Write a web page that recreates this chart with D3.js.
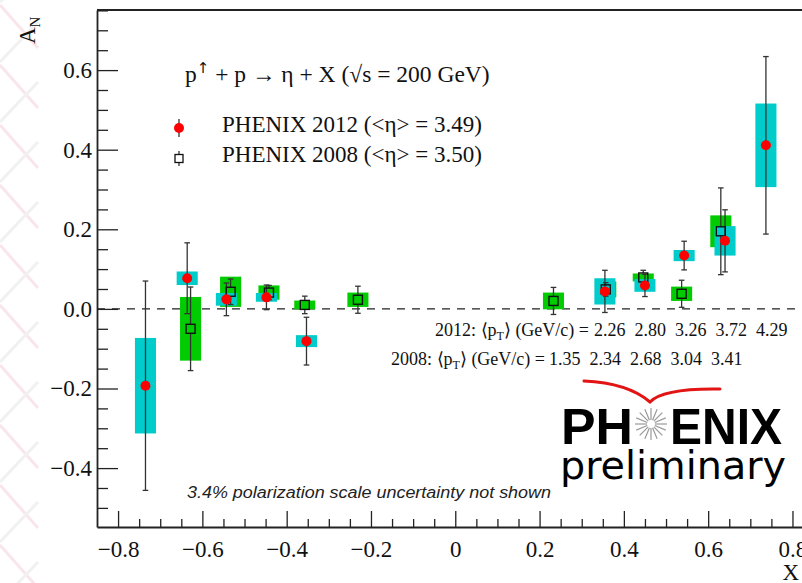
<!DOCTYPE html>
<html><head><meta charset="utf-8">
<script src="https://cdn.jsdelivr.net/npm/d3@7"></script>
<style>
html,body{margin:0;padding:0;background:#fff;}
svg{display:block;}
</style></head>
<body>
<script>
// ---- data ----
const xf2012   = [-0.735, -0.636, -0.543, -0.448, -0.353, 0.355, 0.450, 0.543, 0.640, 0.737];
const an2012   = [-0.193, 0.077, 0.024, 0.029, -0.081, 0.044, 0.059, 0.134, 0.171, 0.411];
const stat2012 = [0.263, 0.089, 0.041, 0.031, 0.060, 0.053, 0.028, 0.036, 0.078, 0.223];
const syst2012 = [0.120, 0.017, 0.016, 0.011, 0.015, 0.033, 0.016, 0.014, 0.037, 0.105];

const xf2008   = [-0.628, -0.533, -0.442, -0.357, -0.231, 0.233, 0.357, 0.446, 0.537, 0.630];
const an2008   = [-0.050, 0.043, 0.041, 0.010, 0.023, 0.020, 0.049, 0.079, 0.038, 0.195];
const stat2008 = [0.105, 0.032, 0.018, 0.022, 0.034, 0.034, 0.017, 0.018, 0.034, 0.109];
const syst2008 = [0.080, 0.038, 0.018, 0.011, 0.018, 0.021, 0.020, 0.010, 0.018, 0.040];

const xTickVals   = [-0.8, -0.6, -0.4, -0.2, 0, 0.2, 0.4, 0.6, 0.8];
const xTickLabels = ["\u22120.8", "\u22120.6", "\u22120.4", "\u22120.2", "0", "0.2", "0.4", "0.6", "0.8"];
const yTickVals   = [-0.4, -0.2, 0, 0.2, 0.4, 0.6];
const yTickLabels = ["\u22120.4", "\u22120.2", "0.0", "0.2", "0.4", "0.6"];

const pt2012 = ["2.26", "2.80", "3.26", "3.72", "4.29"];
const pt2008 = ["1.35", "2.34", "2.68", "3.04", "3.41"];

const boxHalfWidth = 0.025;

// ---- layout ----
const W = 802, H = 583;
const SERIF = "'Liberation Serif', 'Times New Roman', serif";
const SANS = "'Liberation Sans', Arial, sans-serif";
const svg = d3.select("body").append("svg").attr("width", W).attr("height", H)
  .style("font-family", SERIF);
svg.append("rect").attr("width", W).attr("height", H).attr("fill", "#fff");

// faint slide decoration on left edge
const deco = svg.append("g").attr("opacity", 0.35);
for (let i = -1; i < 11; i++) {
  deco.append("line").attr("x1", 0).attr("y1", 60*i+5).attr("x2", 38).attr("y2", 60*i+48)
    .attr("stroke", "#f0b8c6").attr("stroke-width", 3);
  deco.append("line").attr("x1", 0).attr("y1", 60*i+62).attr("x2", 38).attr("y2", 60*i+22)
    .attr("stroke", "#d8d8d8").attr("stroke-width", 3);
}
svg.append("rect").attr("x", 40).attr("y", 0).attr("width", W-40).attr("height", H).attr("fill", "#fff");

const x = d3.scaleLinear().domain([-0.85, 0.85]).range([97, 97 + 1.7 * 421.5]);
const y = d3.scaleLinear().domain([-0.548, 0.751]).range([527, 10]);

const axisColor = "#222";

// frame top line
svg.append("line").attr("x1", 97).attr("x2", W).attr("y1", 10).attr("y2", 10)
  .attr("stroke", axisColor).attr("stroke-width", 1.8);

// zero dashed line
svg.append("line").attr("x1", 97).attr("x2", W).attr("y1", y(0)).attr("y2", y(0))
  .attr("stroke", "#222").attr("stroke-width", 1.3).attr("stroke-dasharray", "8,7");

// ---- axes ----
function styleAxis(g) {
  g.select(".domain").attr("stroke", axisColor).attr("stroke-width", 1.8);
  g.selectAll(".tick line").attr("stroke", axisColor).attr("stroke-width", 1.3);
  g.attr("font-family", null);
  g.selectAll("text").style("font-family", SERIF).attr("font-size", 23).attr("fill", "#111");
}
const yMinor = d3.range(-0.5, 0.751, 0.05).filter(v => yTickVals.every(t => Math.abs(t - v) > 1e-6));
const xMinor = d3.range(-0.8, 0.851, 0.05).filter(v => xTickVals.every(t => Math.abs(t - v) > 1e-6));

const gyMinor = svg.append("g").attr("transform", "translate(97,0)")
  .call(d3.axisLeft(y).tickValues(yMinor).tickSize(-11).tickFormat(""));
gyMinor.select(".domain").remove();
gyMinor.selectAll(".tick line").attr("stroke", axisColor).attr("stroke-width", 1.3);

const gy = svg.append("g").attr("transform", "translate(97,0)")
  .call(d3.axisLeft(y).tickValues(yTickVals).tickSize(-21).tickSizeOuter(0).tickPadding(5)
    .tickFormat((d, i) => yTickLabels[i]));
styleAxis(gy);

const gxMinor = svg.append("g").attr("transform", "translate(0,527)")
  .call(d3.axisBottom(x).tickValues(xMinor).tickSize(-8).tickFormat(""));
gxMinor.select(".domain").remove();
gxMinor.selectAll(".tick line").attr("stroke", axisColor).attr("stroke-width", 1.3);

const gx = svg.append("g").attr("transform", "translate(0,527)")
  .call(d3.axisBottom(x).tickValues(xTickVals).tickSize(-16).tickSizeOuter(0).tickPadding(14)
    .tickFormat((d, i) => xTickLabels[i]));
styleAxis(gx);

// axis titles
const an = svg.append("text").attr("transform", "translate(35,44) rotate(-90)")
  .attr("font-size", 23).attr("fill", "#111");
an.append("tspan").text("A");
an.append("tspan").attr("font-size", 15).attr("dy", 5).text("N");
svg.append("text").attr("x", 799).attr("y", 580).attr("text-anchor", "end")
  .attr("font-size", 23).attr("fill", "#111").text("X");

// ---- systematic boxes ----
const d2012 = xf2012.map((v, i) => ({x: v, a: an2012[i], s: stat2012[i], b: syst2012[i]}));
const d2008 = xf2008.map((v, i) => ({x: v, a: an2008[i], s: stat2008[i], b: syst2008[i]}));

svg.append("g").selectAll("rect").data(d2008).join("rect")
  .attr("x", d => x(d.x - boxHalfWidth)).attr("width", d => x(d.x + boxHalfWidth) - x(d.x - boxHalfWidth))
  .attr("y", d => y(d.a + d.b)).attr("height", d => y(d.a - d.b) - y(d.a + d.b))
  .attr("fill", "#00cc00");
svg.append("g").selectAll("rect").data(d2012).join("rect")
  .attr("x", d => x(d.x - boxHalfWidth)).attr("width", d => x(d.x + boxHalfWidth) - x(d.x - boxHalfWidth))
  .attr("y", d => y(d.a + d.b)).attr("height", d => y(d.a - d.b) - y(d.a + d.b))
  .attr("fill", "#00cccc");

// ---- error bars ----
const errCol = "#333", capW = 2.8, sq = 4.5;
function drawErr(data, gap) {
  const g = svg.append("g").attr("stroke", errCol).attr("stroke-width", 1.3);
  data.forEach(d => {
    const cx = x(d.x), top = y(d.a + d.s), bot = y(d.a - d.s), cy = y(d.a);
    if (gap > 0) {
      if (cy - gap > top) g.append("line").attr("x1", cx).attr("x2", cx).attr("y1", top).attr("y2", cy - gap);
      if (cy + gap < bot) g.append("line").attr("x1", cx).attr("x2", cx).attr("y1", cy + gap).attr("y2", bot);
    } else {
      g.append("line").attr("x1", cx).attr("x2", cx).attr("y1", top).attr("y2", bot);
    }
    g.append("line").attr("x1", cx - capW).attr("x2", cx + capW).attr("y1", top).attr("y2", top);
    g.append("line").attr("x1", cx - capW).attr("x2", cx + capW).attr("y1", bot).attr("y2", bot);
  });
}
drawErr(d2008, sq);
drawErr(d2012, 0);

// markers
svg.append("g").selectAll("rect").data(d2008).join("rect")
  .attr("x", d => x(d.x) - sq).attr("y", d => y(d.a) - sq).attr("width", 2*sq).attr("height", 2*sq)
  .attr("fill", "none").attr("stroke", "#111").attr("stroke-width", 1.4);
svg.append("g").selectAll("circle").data(d2012).join("circle")
  .attr("cx", d => x(d.x)).attr("cy", d => y(d.a)).attr("r", 5).attr("fill", "#ff0000");

// ---- title & legend ----
const t = svg.append("text").attr("x", 185).attr("y", 82).attr("font-size", 23.5).attr("fill", "#111");
t.append("tspan").text("p");
t.append("tspan").attr("font-size", 15).attr("dy", -9).style("font-family", "'DejaVu Sans'").text("\u2191");
t.append("tspan").attr("dy", 9).text(" + p \u2192 \u03b7 + X (\u221as = 200 GeV)");

// legend markers
svg.append("line").attr("x1", 179).attr("x2", 179).attr("y1", 119).attr("y2", 137).attr("stroke", errCol).attr("stroke-width", 1.3);
svg.append("circle").attr("cx", 179).attr("cy", 128).attr("r", 5).attr("fill", "#ff0000");
svg.append("line").attr("x1", 179).attr("x2", 179).attr("y1", 151).attr("y2", 154.5).attr("stroke", errCol).attr("stroke-width", 1.3);
svg.append("line").attr("x1", 179).attr("x2", 179).attr("y1", 162.5).attr("y2", 166).attr("stroke", errCol).attr("stroke-width", 1.3);
svg.append("rect").attr("x", 175).attr("y", 154.5).attr("width", 8).attr("height", 8)
  .attr("fill", "none").attr("stroke", "#111").attr("stroke-width", 1.3);
svg.append("text").attr("x", 222).attr("y", 132).attr("font-size", 23).attr("fill", "#111")
  .text("PHENIX 2012 (<\u03b7> = 3.49)");
svg.append("text").attr("x", 222).attr("y", 162).attr("font-size", 23).attr("fill", "#111")
  .text("PHENIX 2008 (<\u03b7> = 3.50)");

// ---- <pT> lines ----
function ptLine(xEnd, yb, year, vals, numX0) {
  const tx = svg.append("text").attr("x", xEnd).attr("y", yb).attr("text-anchor", "end")
    .attr("font-size", 18).attr("fill", "#111");
  tx.append("tspan").text(year + ": \u27e8p");
  tx.append("tspan").attr("font-size", 12).attr("dy", 4).text("T");
  tx.append("tspan").attr("dy", -4).text("\u27e9 (GeV/c) =");
  vals.forEach((v, i) => {
    svg.append("text").attr("x", numX0 + i * 40.5).attr("y", yb).attr("font-size", 18).attr("fill", "#111").text(v);
  });
}
ptLine(589, 336, "2012", pt2012, 594);
ptLine(545, 365, "2008", pt2008, 549);

// ---- note ----
svg.append("text").attr("x", 187).attr("y", 498).style("font-family", SANS)
  .attr("font-style", "italic").attr("font-size", 16).attr("fill", "#222")
  .attr("textLength", 364).attr("lengthAdjust", "spacingAndGlyphs")
  .text("3.4% polarization scale uncertainty not shown");

// ---- PHENIX preliminary logo ----
const logo = svg.append("g");
logo.append("path").attr("d", "M584,381 Q628,383 650,402 Q663,388 720,389")
  .attr("fill", "none").attr("stroke", "#e21414").attr("stroke-width", 3).attr("stroke-linecap", "round");
logo.append("text").attr("x", 561).attr("y", 444).style("font-family", SANS).attr("font-weight", "bold")
  .attr("font-size", 50).attr("textLength", 72).attr("lengthAdjust", "spacingAndGlyphs").attr("fill", "#000").text("PH");
logo.append("text").attr("x", 670).attr("y", 444).style("font-family", SANS).attr("font-weight", "bold")
  .attr("font-size", 50).attr("textLength", 112).attr("lengthAdjust", "spacingAndGlyphs").attr("fill", "#000").text("ENIX");
const sc = [651, 424];
for (let k = 0; k < 16; k++) {
  const ang = k * Math.PI / 8;
  logo.append("line")
    .attr("x1", sc[0] + 4 * Math.cos(ang)).attr("y1", sc[1] + 4 * Math.sin(ang))
    .attr("x2", sc[0] + 16 * Math.cos(ang)).attr("y2", sc[1] + 16 * Math.sin(ang))
    .attr("stroke", "#9a9a9a").attr("stroke-width", 1.2);
}
logo.append("text").attr("x", 560).attr("y", 479).style("font-family", "'DejaVu Sans', sans-serif")
  .attr("font-size", 39).attr("textLength", 226).attr("lengthAdjust", "spacingAndGlyphs").attr("fill", "#000").text("preliminary");
</script>
</body></html>
